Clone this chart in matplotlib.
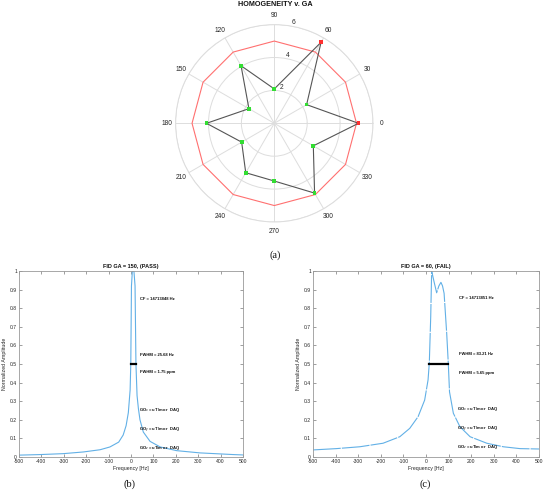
import numpy as np
import matplotlib
matplotlib.use("Agg")
import matplotlib.pyplot as plt

plt.rcParams['font.family'] = ['Liberation Sans', 'DejaVu Sans']

# polar data: homogeneity per gradient angle
ga_deg = [0, 30, 60, 90, 120, 150, 180, 210, 240, 270, 300, 330]
homog = [5.12, 2.27, 5.69, 2.09, 4.04, 1.78, 4.12, 2.29, 3.47, 3.51, 4.90, 2.74]
limit = [5, 5, 5, 5, 5, 5, 5, 5, 5, 5, 5, 5]
r_ticks = [2, 4, 6]

# spectrum (b), GA = 150
freq_b = [-500, -406, -302, -213, -138, -94, -55, -35, -22, -12, -4, -1, 2, 6,
          13, 18, 22, 27, 33, 40, 55, 85, 130, 204, 308, 457, 500]
amp_b = [0.010, 0.013, 0.018, 0.027, 0.039, 0.054, 0.080, 0.118, 0.168, 0.238,
         0.360, 0.500, 0.920, 1.000, 1.000, 0.920, 0.500, 0.330, 0.260, 0.200,
         0.134, 0.084, 0.054, 0.034, 0.022, 0.013, 0.011]
fwhm_b = [-1, 24]

# spectrum (c), GA = 60
freq_c = [-500, -397, -293, -190, -116, -72, -35, -6, 9, 14.6, 20.8, 25, 36, 47,
          57, 66, 73, 80, 91.5, 98.7, 104, 121, 150, 195, 269, 342, 416, 500]
amp_c = [0.038, 0.045, 0.055, 0.074, 0.109, 0.154, 0.217, 0.306, 0.414, 0.507,
         0.754, 1.000, 0.940, 0.883, 0.920, 0.939, 0.920, 0.880, 0.665, 0.500,
         0.350, 0.235, 0.163, 0.109, 0.074, 0.055, 0.045, 0.043]
fwhm_c = [14.6, 98.7]

x_ticks = [-500, -400, -300, -200, -100, 0, 100, 200, 300, 400, 500]
y_ticks = [0, 0.1, 0.2, 0.3, 0.4, 0.5, 0.6, 0.7, 0.8, 0.9, 1]
y_labels = ['0', '0.1', '0.2', '0.3', '0.4', '0.5', '0.6', '0.7', '0.8', '0.9', '1']

curve_col = '#62B0E6'
txt_col = '#262626'

fig = plt.figure(figsize=(5.46, 4.97), dpi=100)

# ---- polar plot
ax = fig.add_axes([0.3216, 0.5533, 0.3615, 0.3972], projection='polar')
th = np.deg2rad(ga_deg + [ga_deg[0]])
ax.plot(th, limit + [limit[0]], color='#FF7070', lw=0.8, zorder=3)
ax.plot(th, homog + [homog[0]], color='#555555', lw=0.8, zorder=4)
cols = ['#FF3030' if h > 5 else '#33DD33' for h in homog]
ax.scatter(np.deg2rad(ga_deg), homog, c=cols, s=7, marker='s', zorder=5, lw=0)
ax.set_ylim(0, 6)
ax.set_yticks(r_ticks)
ax.set_yticklabels([str(r) for r in r_ticks], fontsize=4.8, color=txt_col)
ax.set_rlabel_position(80)
ax.set_thetagrids(ga_deg, [str(g) for g in ga_deg], fontsize=4.8, color=txt_col)
ax.tick_params(axis='x', pad=-4)
ax.grid(color='#DDDDDD', lw=0.7)
ax.spines['polar'].set_color('#DDDDDD')
ax.spines['polar'].set_linewidth(0.7)
fig.text(275 / 546, 1 - 5 / 497, 'HOMOGENEITY v. GA', fontsize=5.2,
         fontweight='bold', ha='center', va='center', color='#111111')

# ---- spectra
def spectrum(pos, f, a, fwhm, title, texts, style):
    axs = fig.add_axes(pos)
    axs.plot(f, a, color=curve_col, lw=0.8, **style)
    axs.plot(fwhm, [0.5, 0.5], color='black', lw=1.6)
    axs.set_xlim(-500, 500)
    axs.set_ylim(0, 1)
    axs.set_xticks(x_ticks)
    axs.set_xticklabels([str(v) for v in x_ticks])
    axs.set_yticks(y_ticks)
    axs.set_yticklabels(y_labels)
    axs.tick_params(direction='in', top=True, right=True, labelsize=3.6,
                    length=2, width=0.5, colors='#777777', labelcolor=txt_col, pad=1.5)
    for s in axs.spines.values():
        s.set_color('#999999')
        s.set_linewidth(0.6)
    axs.set_xlabel('Frequency [Hz]', fontsize=3.8, labelpad=1.5, color=txt_col)
    axs.set_ylabel('Normalized Amplitude', fontsize=3.8, labelpad=2, color=txt_col)
    axs.set_title(title, fontsize=4.0, fontweight='bold', pad=2, color='#111111')
    for x, y, s in texts:
        axs.text(x, y, s, fontsize=3.0, fontweight='bold', va='center', color='#111111')
    return axs

spectrum([0.0348, 0.0805, 0.4103, 0.3742], freq_b, amp_b, fwhm_b,
         'FID GA = 150, (PASS)',
         [(40, 0.85, 'CF = 14713848 Hz'),
          (42, 0.55, 'FWHM = 25.68 Hz'),
          (42, 0.455, 'FWHM = 1.75 ppm'),
          (37, 0.25, 'GO$_x$ = uT/m or  DAQ'),
          (37, 0.15, 'GO$_y$ = uT/m or  DAQ'),
          (37, 0.05, 'GO$_z$ = uT/m or  DAQ')],
         dict(ls='-'))

spectrum([0.5733, 0.0805, 0.4139, 0.3742], freq_c, amp_c, fwhm_c,
         'FID GA = 60, (FAIL)',
         [(147, 0.857, 'CF = 14713851 Hz'),
          (146, 0.552, 'FWHM = 83.21 Hz'),
          (146, 0.453, 'FWHM = 5.65 ppm'),
          (138, 0.258, 'GO$_x$ = uT/m or  DAQ'),
          (138, 0.154, 'GO$_y$ = uT/m or  DAQ'),
          (138, 0.052, 'GO$_z$ = uT/m or  DAQ')],
         dict(ls=(0, (25, 1.0))))

# captions
for x, y, s in [(275, 255, '(a)'), (130, 484, '(b)'), (425, 484, '(c)')]:
    fig.text(x / 546, 1 - y / 497, s, fontsize=7.5, family='Liberation Serif',
             ha='center', va='center', color='#111111')

fig.savefig('out.png', dpi=100)
